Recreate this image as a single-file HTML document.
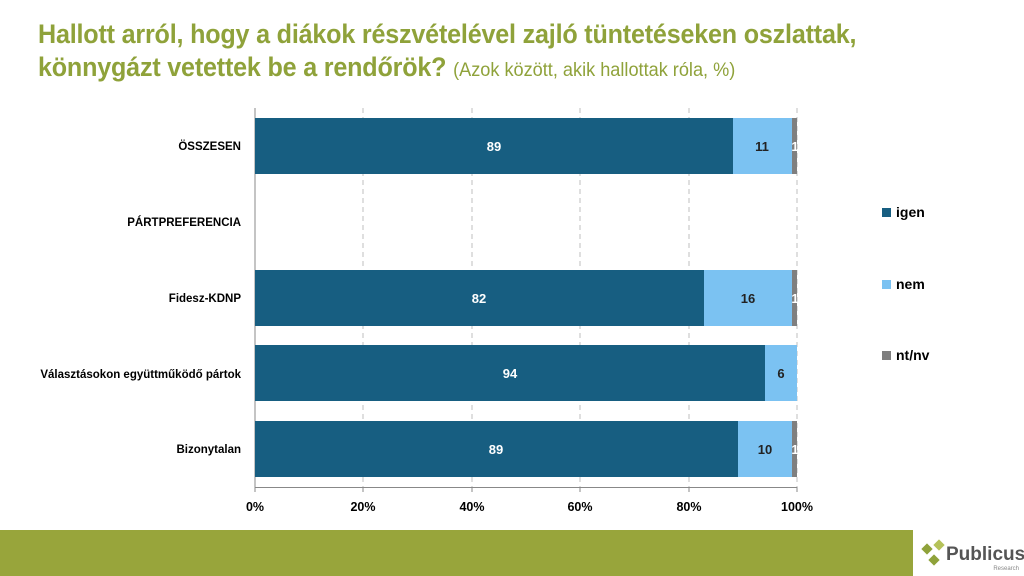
<!DOCTYPE html>
<html><head><meta charset="utf-8"><style>
body{margin:0;width:1024px;height:576px;overflow:hidden;background:#fff;font-family:"Liberation Sans",sans-serif;position:relative}
.t{position:absolute;left:38px;top:18px;color:#8fa23a;font-family:"Liberation Sans",sans-serif;font-weight:bold;font-size:27px;line-height:33px;letter-spacing:-0.2px;transform:scaleX(0.93);transform-origin:0 0;white-space:nowrap}
.t span{font-weight:normal;font-size:19.5px;letter-spacing:0}
</style></head><body>
<div class="t">Hallott arról, hogy a diákok részvételével zajló tüntetéseken oszlattak,<br>könnygázt vetettek be a rendőrök? <span>(Azok között, akik hallottak róla, %)</span></div>
<svg width="1024" height="576" style="position:absolute;left:0;top:0" font-family="Liberation Sans, sans-serif" font-weight="bold">
<g stroke="#bfbfbf" stroke-dasharray="5,4">
<line x1="363" y1="108" x2="363" y2="487"/><line x1="472" y1="108" x2="472" y2="487"/><line x1="580" y1="108" x2="580" y2="487"/><line x1="689" y1="108" x2="689" y2="487"/><line x1="797" y1="108" x2="797" y2="487"/>
</g>
<line x1="255" y1="108" x2="255" y2="488" stroke="#888"/>
<line x1="255" y1="487.5" x2="797" y2="487.5" stroke="#888"/>
<g stroke="#888"><line x1="363" y1="487" x2="363" y2="492"/><line x1="472" y1="487" x2="472" y2="492"/><line x1="580" y1="487" x2="580" y2="492"/><line x1="689" y1="487" x2="689" y2="492"/><line x1="797" y1="487" x2="797" y2="492"/><line x1="255" y1="487" x2="255" y2="492"/></g>
<rect x="255" y="118" width="478" height="56" fill="#175e81"/><rect x="733" y="118" width="59" height="56" fill="#7bc2f2"/><rect x="792" y="118" width="5" height="56" fill="#7f7f7f"/>
<rect x="255" y="270" width="449" height="56" fill="#175e81"/><rect x="704" y="270" width="88" height="56" fill="#7bc2f2"/><rect x="792" y="270" width="5" height="56" fill="#7f7f7f"/>
<rect x="255" y="345" width="510" height="56" fill="#175e81"/><rect x="765" y="345" width="32" height="56" fill="#7bc2f2"/>
<rect x="255" y="421" width="483" height="56" fill="#175e81"/><rect x="738" y="421" width="54" height="56" fill="#7bc2f2"/><rect x="792" y="421" width="5" height="56" fill="#7f7f7f"/>
<g font-size="13" text-anchor="middle" fill="#fff">
<text x="494" y="151">89</text><text x="479" y="303">82</text><text x="510" y="378">94</text><text x="496" y="454">89</text>
</g>
<g font-size="13" text-anchor="middle" fill="#222">
<text x="762" y="151">11</text><text x="748" y="303">16</text><text x="781" y="378">6</text><text x="765" y="454">10</text>
<text x="795" y="151" fill="#fff">1</text><text x="795" y="303" fill="#fff">1</text><text x="795" y="454" fill="#fff">1</text>
</g>
<g font-size="11.5" text-anchor="end" fill="#000">
<text x="241" y="150">ÖSSZESEN</text><text x="241" y="226">PÁRTPREFERENCIA</text><text x="241" y="302">Fidesz-KDNP</text><text x="241" y="378">Választásokon együttműködő pártok</text><text x="241" y="453">Bizonytalan</text>
</g>
<g font-size="12.5" text-anchor="middle" fill="#000">
<text x="255" y="511">0%</text><text x="363" y="511">20%</text><text x="472" y="511">40%</text><text x="580" y="511">60%</text><text x="689" y="511">80%</text><text x="797" y="511">100%</text>
</g>
<rect x="882" y="208" width="9" height="9" fill="#175e81"/><text x="896" y="217" font-size="14">igen</text>
<rect x="882" y="280" width="9" height="9" fill="#7bc2f2"/><text x="896" y="289" font-size="14">nem</text>
<rect x="882" y="351" width="9" height="9" fill="#7f7f7f"/><text x="896" y="360" font-size="14">nt/nv</text>
<rect x="0" y="530" width="913" height="46" fill="#98a53b"/>
<g fill="#8fa23a"><rect x="923" y="545" width="8" height="8" transform="rotate(45 927 549)"/><rect x="935" y="541" width="8" height="8" transform="rotate(45 939 545)" fill="#b5c25a"/><rect x="930" y="556" width="8" height="8" transform="rotate(45 934 560)"/></g>
<text x="946" y="560" font-size="19" fill="#555">Publicus</text>
<text x="1019" y="570" font-size="6" fill="#888" font-weight="normal" text-anchor="end">Research</text>
</svg>
</body></html>
